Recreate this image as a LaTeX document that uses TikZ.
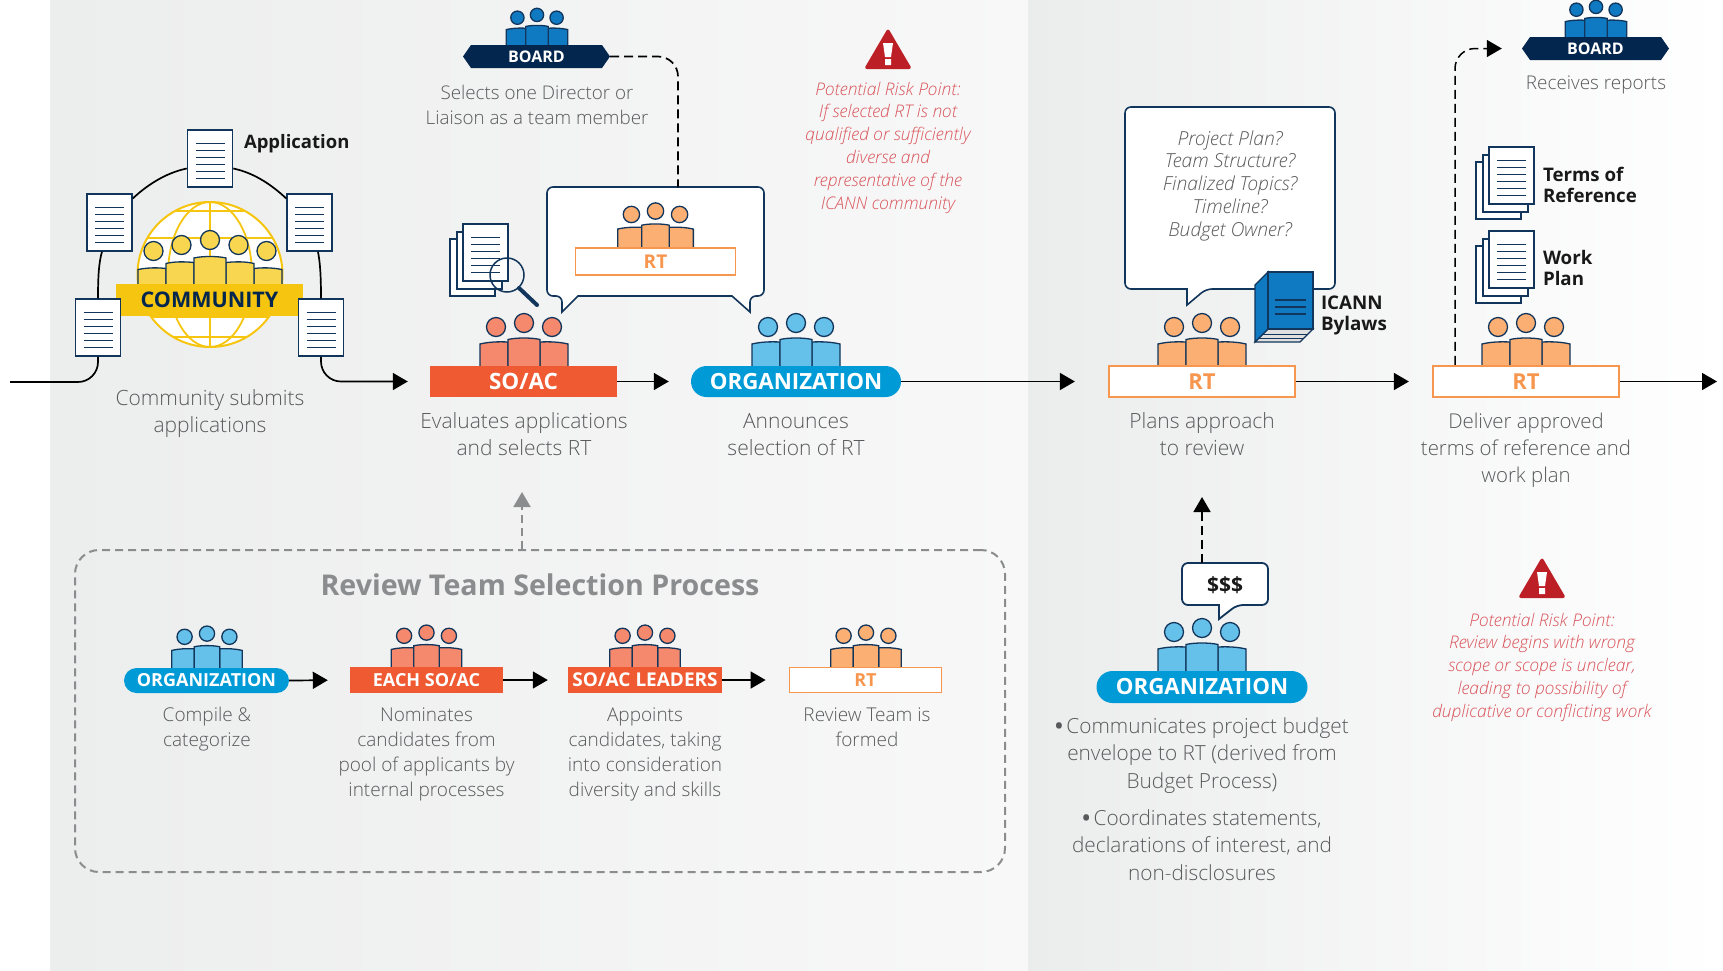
\documentclass[tikz,border=0pt]{standalone}
\usepackage{fontspec}
\setmainfont{Open Sans}[UprightFont=* Light,ItalicFont=* Light Italic,BoldFont=* Bold]
\usetikzlibrary{arrows.meta,calc}
\definecolor{navy}{HTML}{12355B}
\definecolor{boardnavy}{HTML}{03264F}
\definecolor{txtgray}{HTML}{58595B}
\definecolor{riskred}{HTML}{D9535A}
\definecolor{warnred}{HTML}{BD1F26}
\definecolor{soac}{HTML}{EF5A32}
\definecolor{soaclt}{HTML}{F4896E}
\definecolor{orgblue}{HTML}{009BD6}
\definecolor{orglt}{HTML}{65C1EA}
\definecolor{rtor}{HTML}{F7964F}
\definecolor{rtlt}{HTML}{FBAF72}
\definecolor{brdblue}{HTML}{0F79C1}
\definecolor{gold}{HTML}{F6C510}
\definecolor{goldlt}{HTML}{F9D64F}
\definecolor{boxgray}{HTML}{8A8C8E}
\definecolor{panelA}{HTML}{ECEDED}
\definecolor{panelB}{HTML}{F8F8F8}
\definecolor{panelC}{HTML}{EBECEC}
\newcommand\fs[1]{\fontsize{#1}{#1}\selectfont}
% [options]{name}{x}{first baseline y}{size}{line spacing}{text}
\newcommand\lbl[7][]{\node[inner sep=0pt,outer sep=0pt,anchor=north,align=center,text=txtgray,yshift=#5pt,font=\fontsize{#5}{#6}\selectfont,#1] (#2) at (#3,#4) {\rule{0pt}{#5pt}#7};}
\newcommand\people[4]{\begin{scope}[shift={(#1,#2)},scale=#3]
 \foreach \s in {-1,1}{\draw[pline,fill=#4] (\s*44,1) -- (\s*44,-22) .. controls (\s*36,-24) and (\s*26,-24.5) .. (\s*16,-24) -- (\s*16,1);}
 \draw[pline,fill=#4] (-16,1) -- (-16,-26.5) .. controls (-8,-28.5) and (8,-28.5) .. (16,-26.5) -- (16,1);
 \draw[pline,fill=#4] (-28,-39) circle (9.5pt) (28,-39) circle (9.5pt) (0,-43) circle (9.5pt);
\end{scope}}
% name, centre x, centre y
\newcommand\docnode[3]{\node[docbox] (#1) at (#2,#3) {};
 \foreach \d in {-15,-8,-1,6,13,20}{\draw[doclines] ($(#1.center)+(-14.5,\d)$) -- ($(#1.center)+(14.5,\d)$);}}
% stacked pages: front page top left x,y
\newcommand\stack[3]{\node[docbox,anchor=north west] (#1c) at (#2-14,#3+14) {};
 \node[docbox,anchor=north west] (#1b) at (#2-7,#3+7) {};
 \docnode{#1}{#2+22.5}{#3+28.5}}
\newcommand\warn[2]{\begin{scope}[shift={(#1,#2)}]
 \fill[warnred,rounded corners=3pt] (0,-1) -- (24,40) -- (-24,40) -- cycle;
 \fill[white] (-5,14) -- (5,14) -- (3,28) -- (-3,28) -- cycle (-3,30) rectangle (3,36);
\end{scope}}
\tikzset{
 pline/.style={draw=navy,line width=1.3pt},
 docbox/.style={draw=navy,line width=1.5pt,fill=white,minimum width=45pt,minimum height=57pt,inner sep=0pt},
 doclines/.style={navy,line width=1.4pt},
 flow/.style={black,line width=1.7pt,-{Triangle[length=15pt,width=17pt]}},
 plain/.style={black,line width=1.7pt},
 dashline/.style={black,line width=1.7pt,dash pattern=on 9pt off 5pt},
 bubble/.style={draw=navy,line width=1.6pt,fill=white},
 bandf/.style={font=\bfseries\fs{#1},text height=\the\dimexpr#1pt*714/1000\relax,text depth=0pt},
 bandtxt/.style={inner sep=0pt,text=white},
 soacband/.style={bandtxt,fill=soac},
 orgband/.style={bandtxt,fill=orgblue},
 rtband/.style={bandtxt,fill=white,draw=rtor,line width=2.2pt,text=rtor},
 boardband/.style={bandtxt,minimum width=147pt,minimum height=23pt},
 boldlbl/.style={text=black!90,anchor=north west,align=left},
}
\begin{document}
\begin{tikzpicture}[x=1pt,y=-1pt]
\useasboundingbox (0,0) rectangle (1723,970);
\fill[white] (0,0) rectangle (1723,970);
\shade[left color=panelA,right color=panelB] (50,0) rectangle (1028,970);
\shade[left color=panelC,right color=white] (1028,0) rectangle (1723,970);

% ---- community
\begin{scope}
 \clip (210,274.5) circle (72.5pt);
 \fill[white] (210,274.5) circle (72.5pt);
 \draw[gold,line width=1.8pt] (210,202) -- (210,347);
 \draw[gold,line width=1.8pt] (210,274.5) ellipse (42pt and 72.5pt);
 \draw[gold,line width=1.8pt] (137,211) -- (283,211) (137,238) -- (283,238) (137,317) -- (283,317) (137,337) -- (283,337);
\end{scope}
\draw[gold,line width=2pt] (210,274.5) circle (72.5pt);
\begin{scope}[shift={(210,284)}]
 \foreach \s in {-1,1}{
  \draw[pline,fill=goldlt] (\s*72,1) -- (\s*72,-14.5) .. controls (\s*62,-16.5) and (\s*52,-16.5) .. (\s*44,-15.5) -- (\s*44,1);
  \draw[pline,fill=goldlt] (\s*44,1) -- (\s*44,-20.5) .. controls (\s*36,-22.5) and (\s*26,-22.5) .. (\s*16,-21.5) -- (\s*16,1);}
 \draw[pline,fill=goldlt] (-16,1) -- (-16,-26) .. controls (-8,-28) and (8,-28) .. (16,-26) -- (16,1);
 \draw[pline,fill=goldlt] (-56.5,-33) circle (9.5pt) (56.5,-33) circle (9.5pt) (-28.5,-39) circle (9.5pt) (28.5,-39) circle (9.5pt) (0,-44) circle (9.5pt);
\end{scope}
\node[inner sep=0pt,fill=gold,minimum width=187pt,minimum height=32pt,text=boardnavy,bandf=21.5] (community) at (209.5,299.5) {COMMUNITY};
\docnode{d1}{210}{158.5}
\docnode{d2}{109.5}{222.5}
\docnode{d3}{309.5}{222.5}
\docnode{d4}{98}{327.5}
\docnode{d5}{321}{327.5}
\draw[plain] ([yshift=-10pt]d1.west) .. controls (165,173) and (146,186) .. ([yshift=24pt]d2.east);
\draw[plain] ([yshift=-10pt]d1.east) .. controls (255,173) and (273,186) .. ([yshift=24pt]d3.west);
\draw[plain] ([xshift=-7.5pt]d2.south) .. controls (99,262) and (98,275) .. (d4.north);
\draw[plain] ([xshift=8.5pt]d3.south) .. controls (320,262) and (321,275) .. (d5.north);
\coordinate (start) at (10,382);
\draw[plain,rounded corners=20pt] (start) -| (d4.south);
\lbl[boldlbl,font=\bfseries\fontsize{18.5}{22}\selectfont]{tapp}{244}{148}{18.5}{22}{Application}
\lbl{tcomm}{210}{405}{21}{27}{Community submits\\applications}

% ---- SO/AC
\people{524}{366}{1}{soaclt}
\node[soacband,minimum width=187pt,minimum height=31pt,bandf=22.5] (soacn) at (523.5,381.5) {SO/AC};
\draw[flow,rounded corners=20pt,shorten >=22pt] (d5.south) |- (soacn.west);
\lbl{tsoac}{524}{428}{21}{27}{Evaluates applications\\and selects RT}
% magnifier stack
\stack{mag}{463}{224}
\draw[navy,line width=1.5pt] (507,275) circle (17pt);
\draw[navy,line width=4pt,line cap=round] (519,288) -- (537,305);

% ---- ORG
\people{796}{366}{1}{orglt}
\node[orgband,minimum width=210pt,minimum height=31pt,bandf=22.3,rounded corners=15.5pt] (org1) at (796,381.5) {ORGANIZATION};
\draw[flow,shorten >=22pt] (soacn.east) -- (org1.west);
\lbl{torg}{796}{428}{21}{27}{Announces\\selection of RT}

% ---- RT bubble
\draw[bubble] (640,187) [rounded corners=6pt] -- (764,187) -- (764,296) -- (750,296) [sharp corners] -- (750,312) -- (732,296) -- (578,296) -- (562,312) [rounded corners=6pt] -- (562,296) -- (547,296) -- (547,187) -- cycle;
\coordinate (bubtop) at (678,187);
\people{655.5}{248}{0.86}{rtlt}
\node[rtband,line width=1.8pt,minimum width=160pt,minimum height=27pt,bandf=19] (rt0) at (655.5,261.5) {RT};

% ---- board 1
\people{537}{45}{0.7}{brdblue}
\fill[boardnavy] (463,56.5) -- (471,45) -- (602,45) -- (610,56.5) -- (602,68) -- (471,68) -- cycle;
\node[boardband,bandf=16] (board1) at (536.5,56.5) {BOARD};
\draw[dashline,rounded corners=20pt] (board1.east) -| (bubtop);
\lbl{tboard1}{537}{99}{18.8}{25}{Selects one Director or\\Liaison as a team member}

\warn{888}{29}
\lbl[text=riskred,font=\itshape\fontsize{17.4}{22.8}\selectfont]{trisk1}{888}{95}{17.4}{22.8}{Potential Risk Point:\\If selected RT is not\\qualified or sufficiently\\diverse and\\representative of the\\ICANN community}

% ---- RT2
\draw[bubble] (1160,107) [rounded corners=6pt] -- (1335,107) -- (1335,289) -- (1206,289) [sharp corners] -- (1187,305) -- (1187,289) [rounded corners=6pt] -- (1125,289) -- (1125,107) -- cycle;
\lbl[font=\itshape\fontsize{19.3}{22.8}\selectfont,text=txtgray]{tq}{1230}{145}{19.3}{22.8}{Project Plan?\\Team Structure?\\Finalized Topics?\\Timeline?\\Budget Owner?}
\people{1202}{366}{1}{rtlt}
\node[rtband,minimum width=186pt,minimum height=31pt,bandf=22] (rt2) at (1202,381.5) {RT};
\draw[flow,shorten >=33pt] (org1.east) -- (rt2.west);
\lbl{trt2}{1202}{428}{21}{27}{Plans approach\\to review}
% book
\draw[navy,line width=1.2pt,fill=black!12] (1255,342) -- (1300,342) -- (1313,329) -- (1268,329) -- cycle;
\draw[navy,line width=1pt] (1259,338) -- (1304,338) (1263,334) -- (1308,334);
\draw[navy,line width=1.3pt,fill=brdblue] (1255,285) -- (1268,272) -- (1268,329) -- (1255,342) -- cycle;
\draw[navy,line width=1.3pt,fill=brdblue] (1268,272) rectangle (1313,329);
\draw[navy,line width=1.6pt] (1275,300) -- (1306,300) (1275,307) -- (1306,307) (1275,314) -- (1306,314);
\lbl[boldlbl,font=\bfseries\fontsize{18.8}{21}\selectfont]{tbook}{1321}{309}{18.8}{21}{ICANN\\Bylaws}

% ---- RT3
\people{1526}{366}{1}{rtlt}
\node[rtband,minimum width=186pt,minimum height=31pt,bandf=22] (rt3) at (1526,381.5) {RT};
\draw[flow,shorten >=23pt] (rt2.east) -- (rt3.west);
\coordinate (endc) at (1717,381.5);
\draw[flow] (rt3.east) -- (endc);
\lbl{trt3}{1526}{428}{20.4}{27}{Deliver approved\\terms of reference and\\work plan}
\stack{tor}{1489}{147}
\lbl[boldlbl,font=\bfseries\fontsize{18.7}{21}\selectfont]{ttor}{1543}{181}{18.7}{21}{Terms of\\Reference}
\stack{wp}{1489}{231}
\lbl[boldlbl,font=\bfseries\fontsize{18.7}{21}\selectfont]{twp}{1543}{264}{18.7}{21}{Work\\Plan}

% ---- board 2
\people{1596}{37}{0.7}{brdblue}
\fill[boardnavy] (1522,48.5) -- (1530,37) -- (1661,37) -- (1669,48.5) -- (1661,60) -- (1530,60) -- cycle;
\node[boardband,bandf=16] (board2) at (1595.5,48.5) {BOARD};
\draw[dashline,line width=1.5pt,rounded corners=20pt,-{Triangle[length=15pt,width=17pt]},shorten >=20pt] ([xshift=-71pt]rt3.north) |- (board2.west);
\lbl{tboard2}{1596}{89}{18.9}{24}{Receives reports}
\warn{1542}{558}
\lbl[text=riskred,font=\itshape\fontsize{17.4}{22.8}\selectfont]{trisk2}{1542}{626}{17.4}{22.8}{Potential Risk Point:\\Review begins with wrong\\scope or scope is unclear,\\leading to possibility of\\duplicative or conflicting work}

% ---- budget
\people{1202}{671}{1}{orglt}
\node[orgband,minimum width=211pt,minimum height=32pt,bandf=22.3,rounded corners=16pt] (org2) at (1202,687) {ORGANIZATION};
\draw[bubble,line width=1.8pt] (1225,563) [rounded corners=6pt] -- (1268,563) -- (1268,605) -- (1237,605) [sharp corners] -- (1219,619) -- (1219,605) [rounded corners=6pt] -- (1182,605) -- (1182,563) -- cycle;
\node[inner sep=0pt,font=\bfseries\fs{21},text=black!90] (money) at (1225,585) {\$\$\$};
\coordinate (bubtop2) at (1202,563);
\coordinate (moneytip) at (1202,497);
\draw[dashline,-{Triangle[length=15pt,width=17pt]}] (bubtop2) -- (moneytip);
\lbl{tb1}{1202}{733}{20.8}{27.5}{{\bfseries•}\,Communicates project budget\\envelope to RT (derived from\\Budget Process)}
\lbl{tb2}{1202}{825}{20.8}{27.5}{{\bfseries•}\,Coordinates statements,\\declarations of interest, and\\non-disclosures}

% ---- selection process
\node[draw=boxgray,line width=2pt,dash pattern=on 8pt off 5pt,rounded corners=24pt,minimum width=930pt,minimum height=322pt,inner sep=0pt] (procbox) at (540,711) {};
\node[inner sep=0pt,text=boxgray,font=\bfseries\fs{28.6}] (ttitle) at (540,585) {Review Team Selection Process};
\coordinate (proctip) at (522,492);
\draw[boxgray,line width=2pt,dash pattern=on 8pt off 5pt,-{Triangle[length=15pt,width=17pt]}] ([xshift=-18pt]procbox.north) -- (proctip);

\people{207}{668}{0.8}{orglt}
\node[orgband,minimum width=165pt,minimum height=25pt,bandf=18,rounded corners=12.5pt] (s1) at (206.5,680.5) {ORGANIZATION};
\people{426.5}{667}{0.8}{soaclt}
\node[soacband,minimum width=153pt,minimum height=26pt,bandf=18] (s2) at (426.5,680) {EACH SO/AC};
\people{645}{667}{0.8}{soaclt}
\node[soacband,minimum width=154pt,minimum height=26pt,bandf=19] (s3) at (645,680) {SO/AC LEADERS};
\people{866}{667}{0.8}{rtlt}
\node[rtband,line width=1.8pt,minimum width=152pt,minimum height=25pt,bandf=18] (s4) at (865.5,680) {RT};
\draw[flow,shorten >=22pt] (s1.east) -- (s2.west);
\draw[flow,shorten >=20pt] (s2.east) -- (s3.west);
\draw[flow,shorten >=23pt] (s3.east) -- (s4.west);
\lbl{ts1}{207}{721}{19}{25}{Compile \&\\categorize}
\lbl{ts2}{426.5}{721}{19}{25}{Nominates\\candidates from\\pool of applicants by\\internal processes}
\lbl{ts3}{645}{721}{19}{25}{Appoints\\candidates, taking\\into consideration\\diversity and skills}
\lbl{ts4}{867}{721}{19}{25}{Review Team is\\formed}
\end{tikzpicture}
\end{document}
